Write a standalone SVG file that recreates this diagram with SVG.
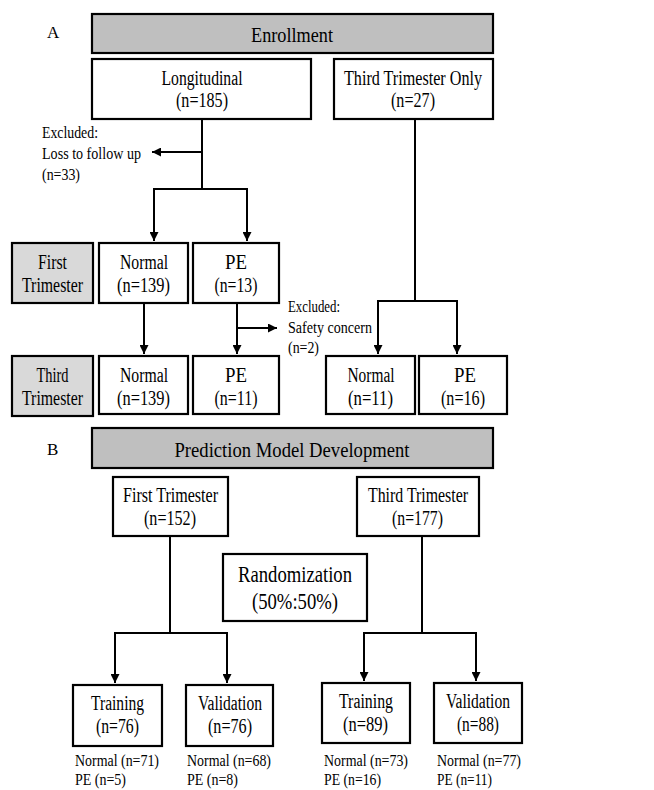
<svg xmlns="http://www.w3.org/2000/svg" width="654" height="790" viewBox="0 0 654 790">
<style>
.bx{fill:#fff;stroke:#000;stroke-width:2.2}
.hd{fill:#bfbfbf;stroke:#000;stroke-width:2.2}
.lb{fill:#d9d9d9;stroke:#000;stroke-width:2.2}
.t{font-size:20px;text-anchor:middle}
.s{font-size:16px}
.r{font-size:23px;text-anchor:middle}
.c{fill:none;stroke:#000;stroke-width:2}
</style>
<defs>
<marker id="ah" markerWidth="9" markerHeight="9" refX="9" refY="4.5" orient="auto" markerUnits="userSpaceOnUse">
<path d="M0,0 L9,4.5 L0,9 z" fill="#000"/>
</marker>
</defs>
<rect width="654" height="790" fill="#fff"/>
<g font-family="Liberation Serif, Times New Roman, serif" fill="#000">
<g id="label-A"><text x="47" y="38" font-size="17">A</text></g>
<g id="enrollment"><rect class="hd" x="92" y="14" width="401" height="39"/><text class="t" x="292" y="42" textLength="82" lengthAdjust="spacingAndGlyphs">Enrollment</text></g>
<g id="longitudinal"><rect class="bx" x="92" y="59" width="219" height="60"/><text class="t" x="202" y="85" textLength="81" lengthAdjust="spacingAndGlyphs">Longitudinal</text><text class="t" x="202" y="107" textLength="52" lengthAdjust="spacingAndGlyphs">(n=185)</text></g>
<g id="third-only"><rect class="bx" x="334" y="59" width="159" height="60"/><text class="t" x="413" y="85" textLength="138" lengthAdjust="spacingAndGlyphs">Third Trimester Only</text><text class="t" x="413" y="107" textLength="44" lengthAdjust="spacingAndGlyphs">(n=27)</text></g>
<g id="excl-loss"><text class="s" x="42" y="138" textLength="56" lengthAdjust="spacingAndGlyphs">Excluded:</text><text class="s" x="42" y="159" textLength="99" lengthAdjust="spacingAndGlyphs">Loss to follow up</text><text class="s" x="42" y="180" textLength="38" lengthAdjust="spacingAndGlyphs">(n=33)</text></g>

<g id="lbl-first"><rect class="lb" x="12" y="243" width="81" height="60"/><text class="t" x="52.5" y="269" textLength="29" lengthAdjust="spacingAndGlyphs">First</text><text class="t" x="52.5" y="292" textLength="61" lengthAdjust="spacingAndGlyphs">Trimester</text></g>
<g id="first-normal"><rect class="bx" x="99" y="243" width="89" height="60"/><text class="t" x="144" y="269" textLength="48" lengthAdjust="spacingAndGlyphs">Normal</text><text class="t" x="143.5" y="292" textLength="53" lengthAdjust="spacingAndGlyphs">(n=139)</text></g>
<g id="first-pe"><rect class="bx" x="193" y="243" width="86" height="60"/><text class="t" x="236" y="269" textLength="22" lengthAdjust="spacingAndGlyphs">PE</text><text class="t" x="236" y="292" textLength="43" lengthAdjust="spacingAndGlyphs">(n=13)</text></g>
<g id="excl-safety"><text class="s" x="288" y="312" textLength="52" lengthAdjust="spacingAndGlyphs">Excluded:</text><text class="s" x="288" y="333" textLength="84" lengthAdjust="spacingAndGlyphs">Safety concern</text><text class="s" x="288" y="353" textLength="31" lengthAdjust="spacingAndGlyphs">(n=2)</text></g>

<g id="lbl-third"><rect class="lb" x="12" y="356" width="81" height="60"/><text class="t" x="52.5" y="382" textLength="32" lengthAdjust="spacingAndGlyphs">Third</text><text class="t" x="52.5" y="405" textLength="61" lengthAdjust="spacingAndGlyphs">Trimester</text></g>
<g id="third-normal"><rect class="bx" x="99" y="356" width="89" height="58"/><text class="t" x="144" y="382" textLength="48" lengthAdjust="spacingAndGlyphs">Normal</text><text class="t" x="143.5" y="405" textLength="53" lengthAdjust="spacingAndGlyphs">(n=139)</text></g>
<g id="third-pe"><rect class="bx" x="193" y="356" width="86" height="58"/><text class="t" x="236" y="382" textLength="22" lengthAdjust="spacingAndGlyphs">PE</text><text class="t" x="236" y="405" textLength="43" lengthAdjust="spacingAndGlyphs">(n=11)</text></g>
<g id="only-normal"><rect class="bx" x="326" y="356" width="89" height="58"/><text class="t" x="371" y="382" textLength="47" lengthAdjust="spacingAndGlyphs">Normal</text><text class="t" x="370.5" y="405" textLength="45" lengthAdjust="spacingAndGlyphs">(n=11)</text></g>
<g id="only-pe"><rect class="bx" x="419" y="356" width="88" height="58"/><text class="t" x="465" y="382" textLength="22" lengthAdjust="spacingAndGlyphs">PE</text><text class="t" x="463" y="405" textLength="44" lengthAdjust="spacingAndGlyphs">(n=16)</text></g>

<g id="label-B"><text x="47" y="455" font-size="17">B</text></g>
<g id="prediction"><rect class="hd" x="92" y="428" width="401" height="40"/><text class="t" x="292" y="457" textLength="235" lengthAdjust="spacingAndGlyphs">Prediction Model Development</text></g>
<g id="pm-first"><rect class="bx" x="113" y="477" width="115" height="59"/><text class="t" x="170.5" y="502" textLength="95" lengthAdjust="spacingAndGlyphs">First Trimester</text><text class="t" x="170" y="525" textLength="52" lengthAdjust="spacingAndGlyphs">(n=152)</text></g>
<g id="pm-third"><rect class="bx" x="357" y="477" width="122" height="59"/><text class="t" x="418" y="502" textLength="100" lengthAdjust="spacingAndGlyphs">Third Trimester</text><text class="t" x="417.5" y="525" textLength="51" lengthAdjust="spacingAndGlyphs">(n=177)</text></g>
<g id="randomization"><rect class="bx" x="223" y="554" width="144" height="67"/><text class="r" x="295" y="582" textLength="114" lengthAdjust="spacingAndGlyphs">Randomization</text><text class="r" x="295" y="609" textLength="86" lengthAdjust="spacingAndGlyphs">(50%:50%)</text></g>

<g id="train-1"><rect class="bx" x="73" y="685" width="89" height="61"/><text class="t" x="117.5" y="710" textLength="53" lengthAdjust="spacingAndGlyphs">Training</text><text class="t" x="117.5" y="733" textLength="43" lengthAdjust="spacingAndGlyphs">(n=76)</text><text class="s" x="75" y="766" textLength="84" lengthAdjust="spacingAndGlyphs">Normal (n=71)</text><text class="s" x="75" y="785" textLength="51" lengthAdjust="spacingAndGlyphs">PE (n=5)</text></g>
<g id="valid-1"><rect class="bx" x="186" y="685" width="87" height="61"/><text class="t" x="230" y="710" textLength="64" lengthAdjust="spacingAndGlyphs">Validation</text><text class="t" x="230" y="733" textLength="44" lengthAdjust="spacingAndGlyphs">(n=76)</text><text class="s" x="187" y="766" textLength="84" lengthAdjust="spacingAndGlyphs">Normal (n=68)</text><text class="s" x="187" y="785" textLength="51" lengthAdjust="spacingAndGlyphs">PE (n=8)</text></g>
<g id="train-3"><rect class="bx" x="322" y="683" width="88" height="60"/><text class="t" x="366" y="708" textLength="54" lengthAdjust="spacingAndGlyphs">Training</text><text class="t" x="365.5" y="731" textLength="45" lengthAdjust="spacingAndGlyphs">(n=89)</text><text class="s" x="324" y="766" textLength="84" lengthAdjust="spacingAndGlyphs">Normal (n=73)</text><text class="s" x="324" y="785" textLength="57" lengthAdjust="spacingAndGlyphs">PE (n=16)</text></g>
<g id="valid-3"><rect class="bx" x="434" y="683" width="88" height="60"/><text class="t" x="478" y="708" textLength="64" lengthAdjust="spacingAndGlyphs">Validation</text><text class="t" x="478" y="731" textLength="42" lengthAdjust="spacingAndGlyphs">(n=88)</text><text class="s" x="437" y="766" textLength="84" lengthAdjust="spacingAndGlyphs">Normal (n=77)</text><text class="s" x="437" y="785" textLength="55" lengthAdjust="spacingAndGlyphs">PE (n=11)</text></g>
</g>
<g id="connectors">
<path class="c" d="M202,120 V189"/>
<path class="c" d="M202,152 H152" marker-end="url(#ah)"/>
<path class="c" d="M202,189 H154 V241" marker-end="url(#ah)"/>
<path class="c" d="M202,189 H247 V241" marker-end="url(#ah)"/>
<path class="c" d="M415,120 V301"/>
<path class="c" d="M415,301 H378 V354" marker-end="url(#ah)"/>
<path class="c" d="M415,301 H457 V354" marker-end="url(#ah)"/>
<path class="c" d="M144,304 V354" marker-end="url(#ah)"/>
<path class="c" d="M237,304 V354" marker-end="url(#ah)"/>
<path class="c" d="M237,328 H277" marker-end="url(#ah)"/>
<path class="c" d="M170,537 V633"/>
<path class="c" d="M170,633 H115 V683" marker-end="url(#ah)"/>
<path class="c" d="M170,633 H227 V683" marker-end="url(#ah)"/>
<path class="c" d="M422,537 V633"/>
<path class="c" d="M422,633 H364 V681" marker-end="url(#ah)"/>
<path class="c" d="M422,633 H476 V681" marker-end="url(#ah)"/>
</g>
</svg>
